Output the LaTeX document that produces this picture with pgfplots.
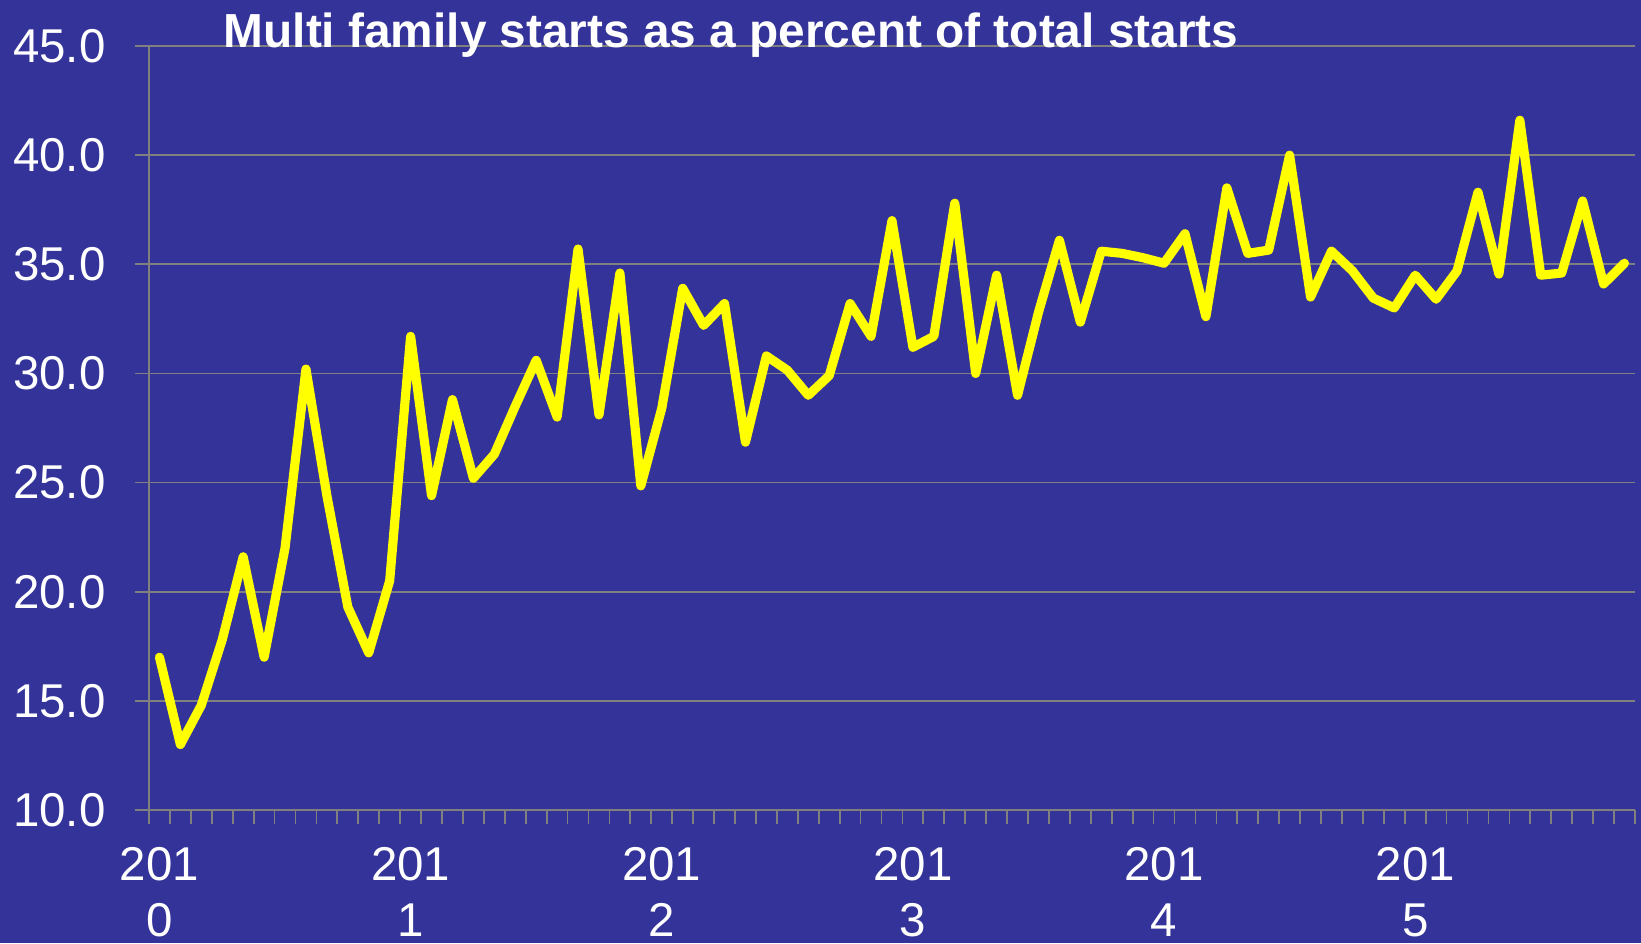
\documentclass[border=0pt]{standalone}
\usepackage{pgfplots}
\pgfplotsset{compat=1.18}
\usepackage{fontspec}
\setmainfont{Liberation Sans}
\definecolor{bg}{RGB}{51,51,153}
\definecolor{gridc}{RGB}{128,128,128}
\definecolor{yel}{RGB}{255,255,0}
\begin{document}
\fontsize{13.5}{16.2}\selectfont
\begin{tikzpicture}
\path[use as bounding box, fill=bg] (-1.49cm,-1.33cm) rectangle (14.92cm,8.10cm);
\begin{axis}[
  name=ax, at={(0,0)}, anchor=south west,
  scale only axis, width=14.86cm, height=7.64cm,
  xmin=0.5, xmax=71.5, ymin=10, ymax=45,
  axis x line*=bottom, axis y line*=left,
  axis line style={gridc, line width=0.5pt, -},
  tick align=outside, major tick length=0.14cm,
  tick style={gridc, line width=0.5pt},
  xtick={0.5,1.5,...,71.5}, xticklabels={},
  extra x ticks={1,13,25,37,49,61},
  extra x tick labels={{201\\0},{201\\1},{201\\2},{201\\3},{201\\4},{201\\5}},
  extra x tick style={major tick length=0pt, grid=none, xticklabel style={align=center, yshift=-0.21cm}},
  ytick={10,15,...,45},
  ymajorgrids, grid style={gridc, line width=0.5pt},
  yticklabel style={xshift=-0.13cm, /pgf/number format/fixed, /pgf/number format/fixed zerofill, /pgf/number format/precision=1},
  /pgf/number format/assume math mode=true,
  tick label style={white, font=\fontsize{13.5}{15.9}\selectfont},
]
\addplot[yel, line width=2.6pt, line join=round, line cap=round] coordinates {
(1,17.0) (2,13.0) (3,14.8) (4,17.8) (5,21.6) (6,17.0) (7,22.0) (8,30.2) (9,24.4) (10,19.3)
(11,17.2) (12,20.5) (13,31.7) (14,24.4) (15,28.8) (16,25.2) (17,26.3) (18,28.5) (19,30.6) (20,28.0)
(21,35.7) (22,28.1) (23,34.6) (24,24.85) (25,28.4) (26,33.9) (27,32.2) (28,33.2) (29,26.85) (30,30.8)
(31,30.15) (32,29.0) (33,29.9) (34,33.2) (35,31.7) (36,37.0) (37,31.2) (38,31.7) (39,37.8) (40,30.0)
(41,34.5) (42,29.0) (43,32.8) (44,36.1) (45,32.35) (46,35.6) (47,35.5) (48,35.3) (49,35.05) (50,36.4)
(51,32.6) (52,38.5) (53,35.5) (54,35.65) (55,40.0) (56,33.5) (57,35.6) (58,34.7) (59,33.45) (60,33.0)
(61,34.5) (62,33.4) (63,34.7) (64,38.3) (65,34.55) (66,41.6) (67,34.5) (68,34.6) (69,37.9) (70,34.1)
(71,35.05)
};
\end{axis}
\node[anchor=base west, white, inner sep=0pt, font=\fontsize{13.6}{16.2}\selectfont\bfseries] at ([xshift=0.74cm,yshift=-0.01cm]ax.north west) {Multi family starts as a percent of total starts};
\end{tikzpicture}
\end{document}
